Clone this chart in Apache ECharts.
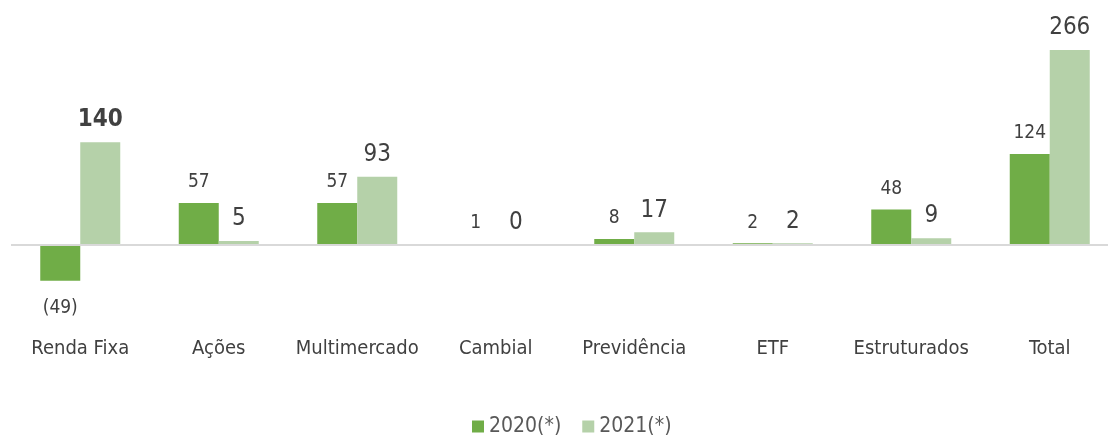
<!DOCTYPE html>
<html>
<head>
<meta charset="utf-8">
<script src="https://cdn.jsdelivr.net/npm/echarts@6/dist/echarts.min.js"></script>
<style>
  html, body { margin: 0; padding: 0; background: #fff; }
  #chart { width: 1108px; height: 437px; }
</style>
</head>
<body>
<div id="chart"></div>
<script>
var categories = ['Renda Fixa', 'Ações', 'Multimercado', 'Cambial', 'Previdência', 'ETF', 'Estruturados', 'Total'];
var values2020 = [-49, 57, 57, 1, 8, 2, 48, 124];
var values2021 = [140, 5, 93, 0, 17, 2, 9, 266];
var seriesNames = ['2020(*)', '2021(*)'];

var FONT = '"DejaVu Sans Condensed", "DejaVu Sans", sans-serif';
var chart = echarts.init(document.getElementById('chart'));

function fmt(p) {
    return p.value < 0 ? '(' + Math.abs(p.value) + ')' : String(p.value);
}

var data2020 = values2020.map(function (v) {
    return {
        value: v,
        label: { position: v < 0 ? 'bottom' : 'top', distance: v < 0 ? 18 : 11 }
    };
});
var data2021 = values2021.map(function (v, i) {
    var d = { value: v };
    if (i === 0) d.label = { fontWeight: 'bold' }; // destaque Renda Fixa
    return d;
});

var option = {
    animation: false,
    textStyle: { fontFamily: FONT },
    grid: { left: 11, right: -11, top: 25, height: 293, outerBoundsMode: 'none' },
    legend: {
        top: 411,
        left: 467,
        itemWidth: 12,
        itemHeight: 12,
        itemGap: 21,
        icon: 'rect',
        textStyle: { fontSize: 21, color: '#595959', fontFamily: FONT },
        data: seriesNames
    },
    xAxis: {
        type: 'category',
        data: categories,
        axisLine: { show: false, onZero: false },
        axisTick: { show: false },
        axisLabel: { interval: 0, color: '#404040', fontSize: 20, margin: 21, fontFamily: FONT }
    },
    yAxis: {
        type: 'value',
        min: -100,
        max: 300,
        show: false,
        splitLine: { show: false }
    },
    series: [
        {
            name: seriesNames[0],
            type: 'bar',
            barWidth: 40,
            barGap: '0%',
            itemStyle: { color: '#70AD47' },
            label: { show: true, formatter: fmt, fontSize: 19, color: '#404040', fontFamily: FONT },
            markLine: {
                silent: true,
                symbol: 'none',
                label: { show: false },
                lineStyle: { color: '#D9D9D9', width: 2, type: 'solid' },
                data: [{ yAxis: 0 }]
            },
            data: data2020
        },
        {
            name: seriesNames[1],
            type: 'bar',
            barWidth: 40,
            barGap: '0%',
            itemStyle: { color: '#B5D1A9' },
            label: { show: true, position: 'top', distance: 10, formatter: fmt, fontSize: 24, color: '#404040', fontFamily: FONT },
            data: data2021
        }
    ]
};

chart.setOption(option);
window.addEventListener('resize', chart.resize);
</script>
</body>
</html>
